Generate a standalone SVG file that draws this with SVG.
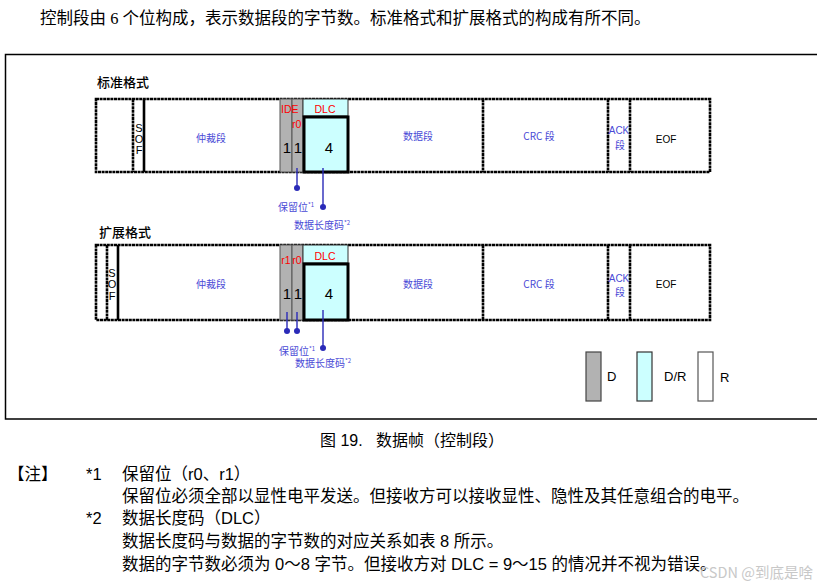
<svg xmlns="http://www.w3.org/2000/svg" width="817" height="588" viewBox="0 0 817 588">
<style>
.cjk{font-family:"Noto Sans CJK SC","Liberation Sans",sans-serif}
.ser{font-family:"Liberation Serif","Noto Sans CJK SC",serif}
.lat{font-family:"Liberation Sans","Noto Sans CJK SC",sans-serif}
.seg{fill:none;stroke:#000;stroke-width:2.6;stroke-dasharray:3 0.6}
.solid{fill:none;stroke:#000;stroke-width:2.6}
.gray{fill:#b2b2b2;stroke:#555;stroke-width:1}
.cyan{fill:#ccffff;stroke:#333;stroke-width:1}
.box4{fill:#ccffff;stroke:#000;stroke-width:3}
.blue{fill:#4a4ad6}
.red{fill:#ff0000}
.lbl{font-size:10px}
.big{font-size:15px}
.conn{stroke:#2a2ab8;stroke-width:1.4}
.dot{fill:#2a2ab8}
.note{font-size:16.5px;fill:#000}
</style>

<text class="ser" x="40" y="24" font-size="16.5" fill="#000">控制段由 6 个位构成，表示数据段的字节数。标准格式和扩展格式的构成有所不同。</text>

<g id="frame">
<path d="M817 54.5 H5.5 V419 H817" fill="none" stroke="#000" stroke-width="1.5"/>
</g>

<g id="standard">
<text class="cjk" x="97" y="87" font-size="13" font-weight="500" fill="#000">标准格式</text>
<rect class="seg" x="96" y="99" width="614" height="73"/>
<line class="seg" x1="133" y1="99" x2="133" y2="172"/>
<line class="solid" x1="144" y1="99" x2="144" y2="172"/>
<line class="seg" x1="483" y1="99" x2="483" y2="172"/>
<line class="seg" x1="608" y1="99" x2="608" y2="172"/>
<line class="seg" x1="630" y1="99" x2="630" y2="172"/>
<rect class="gray" x="280" y="99" width="12" height="73"/>
<rect class="gray" x="292" y="99" width="11" height="73"/>
<rect class="cyan" x="303" y="99" width="45" height="17"/>
<rect class="box4" x="304" y="117" width="44" height="55"/>
<g class="lat" font-size="11" fill="#000" text-anchor="middle">
<text x="139" y="132">S</text><text x="139" y="143">O</text><text x="139" y="154">F</text>
</g>
<text class="cjk lbl blue" x="211" y="142" text-anchor="middle">仲裁段</text>
<text class="lat red" font-size="10.5" x="281" y="113">IDE</text>
<text class="lat red" font-size="10.5" x="292" y="128">r0</text>
<text class="lat red" font-size="10.5" x="325" y="113" text-anchor="middle">DLC</text>
<text class="lat big" x="287" y="153" text-anchor="middle" fill="#000">1</text>
<text class="lat big" x="298" y="153" text-anchor="middle" fill="#000">1</text>
<text class="lat big" x="329" y="153" text-anchor="middle" fill="#000">4</text>
<text class="cjk lbl blue" x="418" y="140" text-anchor="middle">数据段</text>
<text class="cjk lbl blue" x="539" y="140" text-anchor="middle">CRC 段</text>
<text class="lat lbl blue" x="619" y="134" text-anchor="middle">ACK</text>
<text class="cjk lbl blue" x="620" y="149" text-anchor="middle">段</text>
<text class="lat lbl" x="666" y="143" text-anchor="middle" fill="#000">EOF</text>
<text class="cjk blue" x="278" y="211" font-size="10">保留位<tspan font-size="6" dy="-4">*1</tspan></text>
<text class="cjk blue" x="294" y="229" font-size="10">数据长度码<tspan font-size="6" dy="-4">*2</tspan></text>
</g>

<g id="extended">
<text class="cjk" x="99" y="237" font-size="13" font-weight="500" fill="#000">扩展格式</text>
<rect class="seg" x="96" y="245" width="614" height="75"/>
<line class="seg" x1="107" y1="245" x2="107" y2="320"/>
<line class="solid" x1="118" y1="245" x2="118" y2="320"/>
<line class="seg" x1="483" y1="245" x2="483" y2="320"/>
<line class="seg" x1="608" y1="245" x2="608" y2="320"/>
<line class="seg" x1="630" y1="245" x2="630" y2="320"/>
<rect class="gray" x="280" y="245" width="12" height="75"/>
<rect class="gray" x="292" y="245" width="11" height="75"/>
<rect class="cyan" x="303" y="245" width="45" height="18"/>
<rect class="box4" x="304" y="264" width="44" height="56"/>
<g class="lat" font-size="11" fill="#000" text-anchor="middle">
<text x="112" y="277">S</text><text x="112" y="288">O</text><text x="112" y="300">F</text>
</g>
<text class="cjk lbl blue" x="211" y="288" text-anchor="middle">仲裁段</text>
<text class="lat red" font-size="10.5" x="286" y="264" text-anchor="middle">r1</text>
<text class="lat red" font-size="10.5" x="297" y="264" text-anchor="middle">r0</text>
<text class="lat red" font-size="10.5" x="325" y="260" text-anchor="middle">DLC</text>
<text class="lat big" x="287" y="299" text-anchor="middle" fill="#000">1</text>
<text class="lat big" x="298" y="299" text-anchor="middle" fill="#000">1</text>
<text class="lat big" x="329" y="299" text-anchor="middle" fill="#000">4</text>
<text class="cjk lbl blue" x="418" y="288" text-anchor="middle">数据段</text>
<text class="cjk lbl blue" x="539" y="288" text-anchor="middle">CRC 段</text>
<text class="lat lbl blue" x="619" y="282" text-anchor="middle">ACK</text>
<text class="cjk lbl blue" x="620" y="296" text-anchor="middle">段</text>
<text class="lat lbl" x="666" y="288" text-anchor="middle" fill="#000">EOF</text>
<text class="cjk blue" x="279" y="355" font-size="10">保留位<tspan font-size="6" dy="-4">*1</tspan></text>
<text class="cjk blue" x="295" y="367" font-size="10">数据长度码<tspan font-size="6" dy="-4">*2</tspan></text>
</g>

<g id="connectors">
<line class="conn" x1="297" y1="168" x2="297" y2="188"/>
<circle class="dot" cx="297" cy="188" r="3"/>
<line class="conn" x1="323" y1="168" x2="323" y2="207"/>
<circle class="dot" cx="323" cy="207" r="3"/>
<line class="conn" x1="287" y1="312" x2="287" y2="331"/>
<circle class="dot" cx="287" cy="331" r="3"/>
<line class="conn" x1="297" y1="312" x2="297" y2="331"/>
<circle class="dot" cx="297" cy="331" r="3"/>
<line class="conn" x1="323" y1="310" x2="323" y2="348"/>
<circle class="dot" cx="323" cy="348" r="3"/>
</g>

<g id="legend">
<rect x="586" y="352" width="15" height="49" fill="#b2b2b2" stroke="#444" stroke-width="1.2"/>
<text class="lat" x="607" y="381" font-size="13" fill="#000">D</text>
<rect x="637" y="352" width="15" height="49" fill="#ccffff" stroke="#333" stroke-width="1.2"/>
<text class="lat" x="664" y="381" font-size="13" fill="#000">D/R</text>
<rect x="698" y="352" width="15" height="49" fill="#fff" stroke="#555" stroke-width="1.2"/>
<text class="lat" x="720" y="382" font-size="13" fill="#000">R</text>
</g>

<text class="lat" x="320" y="446" font-size="16" fill="#000" xml:space="preserve">图 19.   数据帧（控制段）</text>

<g id="notes" class="lat note">
<text x="8" y="480">【注】</text>
<text x="86" y="480">*1</text>
<text x="122" y="480">保留位（r0、r1）</text>
<text x="122" y="502">保留位必须全部以显性电平发送。但接收方可以接收显性、隐性及其任意组合的电平。</text>
<text x="86" y="524">*2</text>
<text x="122" y="524">数据长度码（DLC）</text>
<text x="122" y="547">数据长度码与数据的字节数的对应关系如表 8 所示。</text>
<text x="122" y="570">数据的字节数必须为 0～8 字节。但接收方对 DLC = 9～15 的情况并不视为错误。</text>
</g>
<text class="cjk" x="700" y="578" font-size="14.5" fill="#c8c8c8">CSDN @到底是啥</text>
</svg>
